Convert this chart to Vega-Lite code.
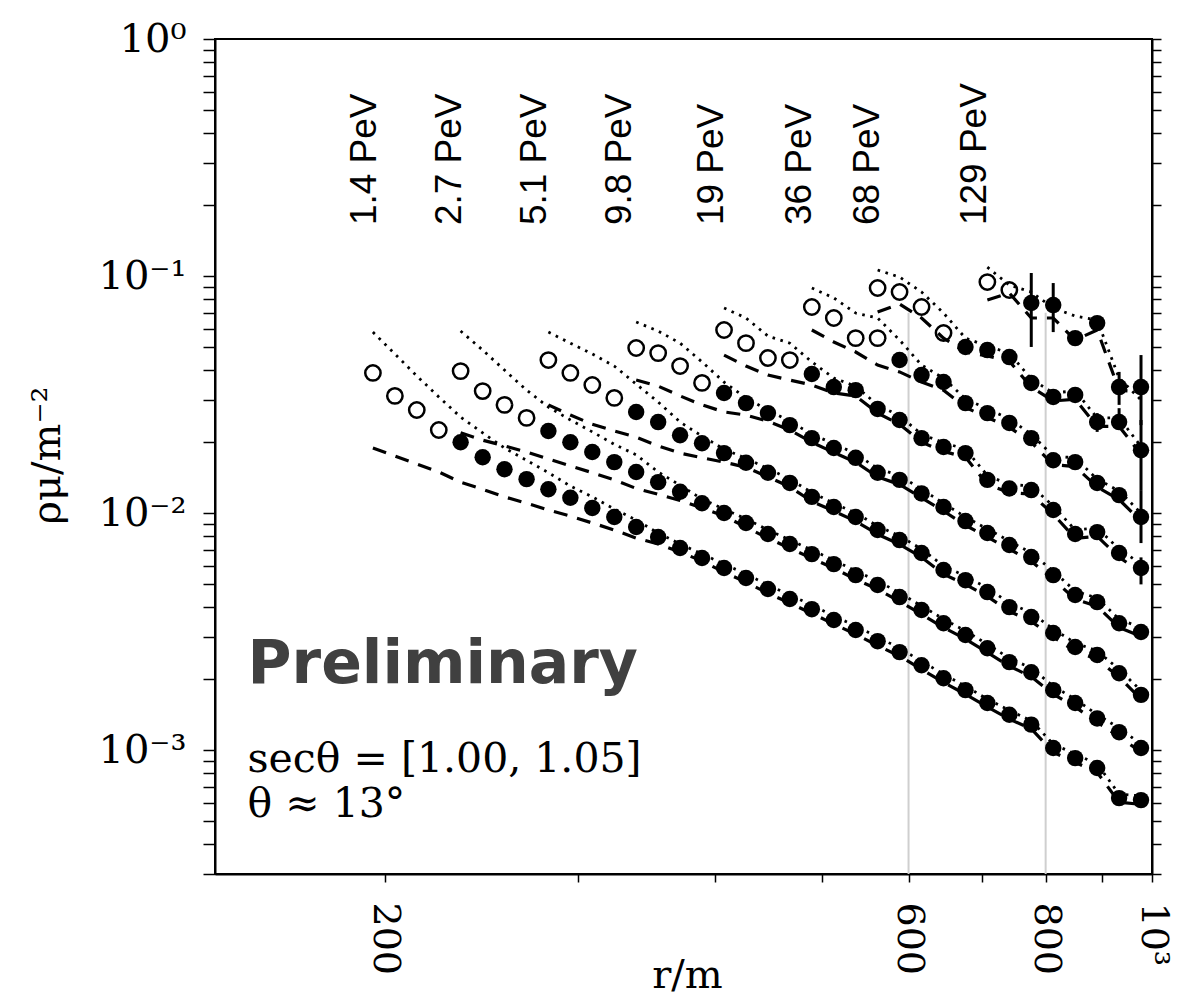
{
  "$schema": "https://vega.github.io/schema/vega-lite/v6.json",
  "width": 937,
  "height": 835,
  "autosize": "none",
  "padding": {"left": 215, "top": 39, "right": 35, "bottom": 125},
  "background": "white",
  "config": {"view": {"stroke": "black", "strokeWidth": 2}, "axis": {"grid": false}},
  "datasets": {
    "rules": [{"r": 600, "top": 0.07, "bot": 0.0003}, {"r": 800, "top": 0.07, "bot": 0.0003}],
    "err": [
      {"s": 8, "r": 776.2, "lo": 0.0502, "hi": 0.103},
      {"s": 8, "r": 812.8, "lo": 0.058, "hi": 0.0934},
      {"s": 8, "r": 933.3, "lo": 0.0286, "hi": 0.0394},
      {"s": 8, "r": 977.2, "lo": 0.0235, "hi": 0.0464},
      {"s": 7, "r": 891.3, "lo": 0.022, "hi": 0.0264},
      {"s": 7, "r": 933.3, "lo": 0.0224, "hi": 0.0277},
      {"s": 7, "r": 977.2, "lo": 0.0125, "hi": 0.0247},
      {"s": 6, "r": 977.2, "lo": 0.00747, "hi": 0.0125},
      {"s": 5, "r": 977.2, "lo": 0.005, "hi": 0.0065}
    ],
    "labels": [
      {"t": "1.4 PeV", "r": 191.7, "v": 0.164},
      {"t": "2.7 PeV", "r": 229.1, "v": 0.164},
      {"t": "5.1 PeV", "r": 273.9, "v": 0.164},
      {"t": "9.8 PeV", "r": 327.4, "v": 0.164},
      {"t": "19 PeV", "r": 397.1, "v": 0.164},
      {"t": "36 PeV", "r": 477.8, "v": 0.164},
      {"t": "68 PeV", "r": 551.0, "v": 0.164},
      {"t": "129 PeV", "r": 689.9, "v": 0.164}
    ],
    "ann": [
      {"k": "p", "t": "Preliminary", "r": 149.9, "v": 0.00192},
      {"k": "s", "t": "secθ = [1.00, 1.05]", "r": 149.9, "v": 0.000808},
      {"k": "s", "t": "θ ≈ 13°", "r": 149.9, "v": 0.000521}
    ],
    "pts": [
      {"s":1,"r":195.0,"v":0.0390,"o":1,"pu":0.0580,"pd":0.0188},
      {"s":1,"r":204.2,"v":0.0312,"o":1,"pu":0.0469,"pd":0.0174},
      {"s":1,"r":213.8,"v":0.0272,"o":1,"pu":0.0379,"pd":0.0161},
      {"s":1,"r":223.9,"v":0.0224,"o":1,"pu":0.0309,"pd":0.0149},
      {"s":1,"r":234.4,"v":0.0199,"o":0,"pu":0.0254,"pd":0.0135},
      {"s":1,"r":245.5,"v":0.0172,"o":0,"pu":0.0218,"pd":0.0126},
      {"s":1,"r":257.0,"v":0.0153,"o":0,"pu":0.0188,"pd":0.0117},
      {"s":1,"r":269.2,"v":0.0139,"o":0,"pu":0.0167,"pd":0.0110},
      {"s":1,"r":281.8,"v":0.0126,"o":0,"pu":0.0148,"pd":0.0103},
      {"s":1,"r":295.1,"v":0.0116,"o":0,"pu":0.0130,"pd":0.00971},
      {"s":1,"r":309.0,"v":0.0105,"o":0,"pu":0.0117,"pd":0.00908},
      {"s":1,"r":323.6,"v":0.00962,"o":0,"pu":0.0104,"pd":0.00848},
      {"s":1,"r":338.8,"v":0.00873,"o":0,"pu":0.00934,"pd":0.00784},
      {"s":1,"r":354.8,"v":0.00792,"o":0,"pu":0.00824,"pd":0.00740},
      {"s":1,"r":371.5,"v":0.00712,"o":0,"pu":0.00740,"pd":0.00685},
      {"s":1,"r":389.0,"v":0.00646,"o":0,"pu":0.00672,"pd":0.00627},
      {"s":1,"r":407.4,"v":0.00586,"o":0,"pu":0.00609,"pd":0.00563},
      {"s":1,"r":426.6,"v":0.00532,"o":0,"pu":0.00553,"pd":0.00511},
      {"s":1,"r":446.7,"v":0.00478,"o":0,"pu":0.00497,"pd":0.00459},
      {"s":1,"r":467.7,"v":0.00434,"o":0,"pu":0.00451,"pd":0.00417},
      {"s":1,"r":489.8,"v":0.00393,"o":0,"pu":0.00409,"pd":0.00377},
      {"s":1,"r":512.9,"v":0.00354,"o":0,"pu":0.00368,"pd":0.00340},
      {"s":1,"r":537.0,"v":0.00321,"o":0,"pu":0.00334,"pd":0.00308},
      {"s":1,"r":562.3,"v":0.00288,"o":0,"pu":0.00300,"pd":0.00276},
      {"s":1,"r":588.8,"v":0.00259,"o":0,"pu":0.00269,"pd":0.00249},
      {"s":1,"r":616.6,"v":0.00228,"o":0,"pu":0.00237,"pd":0.00219},
      {"s":1,"r":645.7,"v":0.00201,"o":0,"pu":0.00209,"pd":0.00193},
      {"s":1,"r":676.1,"v":0.00179,"o":0,"pu":0.00186,"pd":0.00172},
      {"s":1,"r":707.9,"v":0.00158,"o":0,"pu":0.00164,"pd":0.00152},
      {"s":1,"r":741.3,"v":0.00141,"o":0,"pu":0.00147,"pd":0.00135},
      {"s":1,"r":776.2,"v":0.00128,"o":0,"pu":0.00133,"pd":0.00123},
      {"s":1,"r":812.8,"v":0.00102,"o":0,"pu":0.00106,"pd":0.000979},
      {"s":1,"r":851.1,"v":0.000925,"o":0,"pu":0.000962,"pd":0.000888},
      {"s":1,"r":891.3,"v":0.000840,"o":0,"pu":0.000874,"pd":0.000806},
      {"s":1,"r":933.3,"v":0.000627,"o":0,"pu":0.000652,"pd":0.000602},
      {"s":1,"r":977.2,"v":0.000615,"o":0,"pu":0.000640,"pd":0.000590},

      {"s":2,"r":234.4,"v":0.0397,"o":1,"pu":0.0586,"pd":0.0218},
      {"s":2,"r":245.5,"v":0.0327,"o":1,"pu":0.0487,"pd":0.0203},
      {"s":2,"r":257.0,"v":0.0286,"o":1,"pu":0.0401,"pd":0.0192},
      {"s":2,"r":269.2,"v":0.0252,"o":1,"pu":0.0330,"pd":0.0181},
      {"s":2,"r":281.8,"v":0.0222,"o":0,"pu":0.0280,"pd":0.0169},
      {"s":2,"r":295.1,"v":0.0199,"o":0,"pu":0.0247,"pd":0.0158},
      {"s":2,"r":309.0,"v":0.0181,"o":0,"pu":0.0220,"pd":0.0148},
      {"s":2,"r":323.6,"v":0.0164,"o":0,"pu":0.0195,"pd":0.0138},
      {"s":2,"r":338.8,"v":0.0149,"o":0,"pu":0.0176,"pd":0.0127},
      {"s":2,"r":354.8,"v":0.0135,"o":0,"pu":0.0149,"pd":0.0120},
      {"s":2,"r":371.5,"v":0.0123,"o":0,"pu":0.0131,"pd":0.0113},
      {"s":2,"r":389.0,"v":0.0110,"o":0,"pu":0.01144,"pd":0.0105},
      {"s":2,"r":407.4,"v":0.0100,"o":0,"pu":0.0104,"pd":0.00971},
      {"s":2,"r":426.6,"v":0.00908,"o":0,"pu":0.00944,"pd":0.00872},
      {"s":2,"r":446.7,"v":0.00816,"o":0,"pu":0.00849,"pd":0.00783},
      {"s":2,"r":467.7,"v":0.00740,"o":0,"pu":0.00770,"pd":0.00710},
      {"s":2,"r":489.8,"v":0.00671,"o":0,"pu":0.00698,"pd":0.00644},
      {"s":2,"r":512.9,"v":0.00609,"o":0,"pu":0.00633,"pd":0.00585},
      {"s":2,"r":537.0,"v":0.00547,"o":0,"pu":0.00569,"pd":0.00525},
      {"s":2,"r":562.3,"v":0.00497,"o":0,"pu":0.00517,"pd":0.00477},
      {"s":2,"r":588.8,"v":0.00442,"o":0,"pu":0.00460,"pd":0.00424},
      {"s":2,"r":616.6,"v":0.00390,"o":0,"pu":0.00406,"pd":0.00374},
      {"s":2,"r":645.7,"v":0.00343,"o":0,"pu":0.00357,"pd":0.00329},
      {"s":2,"r":676.1,"v":0.00306,"o":0,"pu":0.00318,"pd":0.00294},
      {"s":2,"r":707.9,"v":0.00269,"o":0,"pu":0.00280,"pd":0.00258},
      {"s":2,"r":741.3,"v":0.00235,"o":0,"pu":0.00244,"pd":0.00226},
      {"s":2,"r":776.2,"v":0.00213,"o":0,"pu":0.00222,"pd":0.00204},
      {"s":2,"r":812.8,"v":0.00179,"o":0,"pu":0.00186,"pd":0.00172},
      {"s":2,"r":851.1,"v":0.00158,"o":0,"pu":0.00164,"pd":0.00152},
      {"s":2,"r":891.3,"v":0.00136,"o":0,"pu":0.00141,"pd":0.00131},
      {"s":2,"r":933.3,"v":0.00119,"o":0,"pu":0.00124,"pd":0.00114},
      {"s":2,"r":977.2,"v":0.00102,"o":0,"pu":0.00106,"pd":0.000979},

      {"s":3,"r":281.8,"v":0.0442,"o":1,"pu":0.0580,"pd":0.0286},
      {"s":3,"r":295.1,"v":0.0390,"o":1,"pu":0.0521,"pd":0.0259},
      {"s":3,"r":309.0,"v":0.0347,"o":1,"pu":0.0469,"pd":0.0237},
      {"s":3,"r":323.6,"v":0.0306,"o":1,"pu":0.0417,"pd":0.0222},
      {"s":3,"r":338.8,"v":0.0267,"o":0,"pu":0.0350,"pd":0.0209},
      {"s":3,"r":354.8,"v":0.0242,"o":0,"pu":0.0294,"pd":0.0192},
      {"s":3,"r":371.5,"v":0.0213,"o":0,"pu":0.0242,"pd":0.0179},
      {"s":3,"r":389.0,"v":0.0197,"o":0,"pu":0.0211,"pd":0.0171},
      {"s":3,"r":407.4,"v":0.0179,"o":0,"pu":0.0186,"pd":0.0164},
      {"s":3,"r":426.6,"v":0.0163,"o":0,"pu":0.0170,"pd":0.0156},
      {"s":3,"r":446.7,"v":0.0148,"o":0,"pu":0.0154,"pd":0.0142},
      {"s":3,"r":467.7,"v":0.0134,"o":0,"pu":0.0139,"pd":0.0129},
      {"s":3,"r":489.8,"v":0.0117,"o":0,"pu":0.0122,"pd":0.0112},
      {"s":3,"r":512.9,"v":0.0106,"o":0,"pu":0.0110,"pd":0.0102},
      {"s":3,"r":537.0,"v":0.00962,"o":0,"pu":0.0100,"pd":0.00924},
      {"s":3,"r":562.3,"v":0.00848,"o":0,"pu":0.00882,"pd":0.00814},
      {"s":3,"r":588.8,"v":0.00769,"o":0,"pu":0.00800,"pd":0.00738},
      {"s":3,"r":616.6,"v":0.00678,"o":0,"pu":0.00705,"pd":0.00651},
      {"s":3,"r":645.7,"v":0.00575,"o":0,"pu":0.00598,"pd":0.00552},
      {"s":3,"r":676.1,"v":0.00521,"o":0,"pu":0.00542,"pd":0.00500},
      {"s":3,"r":707.9,"v":0.00464,"o":0,"pu":0.00483,"pd":0.00445},
      {"s":3,"r":741.3,"v":0.00401,"o":0,"pu":0.00417,"pd":0.00385},
      {"s":3,"r":776.2,"v":0.00364,"o":0,"pu":0.00379,"pd":0.00349},
      {"s":3,"r":812.8,"v":0.00312,"o":0,"pu":0.00324,"pd":0.00300},
      {"s":3,"r":851.1,"v":0.00272,"o":0,"pu":0.00283,"pd":0.00261},
      {"s":3,"r":891.3,"v":0.00252,"o":0,"pu":0.00262,"pd":0.00242},
      {"s":3,"r":933.3,"v":0.00211,"o":0,"pu":0.00219,"pd":0.00203},
      {"s":3,"r":977.2,"v":0.00171,"o":0,"pu":0.00178,"pd":0.00164},

      {"s":4,"r":338.8,"v":0.0497,"o":1,"pu":0.0640,"pd":0.0364},
      {"s":4,"r":354.8,"v":0.0473,"o":1,"pu":0.0586,"pd":0.0343},
      {"s":4,"r":371.5,"v":0.0417,"o":1,"pu":0.0521,"pd":0.0312},
      {"s":4,"r":389.0,"v":0.0354,"o":1,"pu":0.0434,"pd":0.0286},
      {"s":4,"r":407.4,"v":0.0321,"o":0,"pu":0.0357,"pd":0.0267},
      {"s":4,"r":426.6,"v":0.0291,"o":0,"pu":0.0306,"pd":0.0259},
      {"s":4,"r":446.7,"v":0.0264,"o":0,"pu":0.0272,"pd":0.0244},
      {"s":4,"r":467.7,"v":0.0235,"o":0,"pu":0.0244,"pd":0.0224},
      {"s":4,"r":489.8,"v":0.0207,"o":0,"pu":0.0215,"pd":0.0199},
      {"s":4,"r":512.9,"v":0.0188,"o":0,"pu":0.0196,"pd":0.0180},
      {"s":4,"r":537.0,"v":0.0171,"o":0,"pu":0.0178,"pd":0.0164},
      {"s":4,"r":562.3,"v":0.0148,"o":0,"pu":0.0154,"pd":0.0142},
      {"s":4,"r":588.8,"v":0.0138,"o":0,"pu":0.0144,"pd":0.0132},
      {"s":4,"r":616.6,"v":0.0121,"o":0,"pu":0.0126,"pd":0.0116},
      {"s":4,"r":645.7,"v":0.0106,"o":0,"pu":0.0110,"pd":0.0102},
      {"s":4,"r":676.1,"v":0.00925,"o":0,"pu":0.00962,"pd":0.00888},
      {"s":4,"r":707.9,"v":0.00824,"o":0,"pu":0.00857,"pd":0.00791},
      {"s":4,"r":741.3,"v":0.00733,"o":0,"pu":0.00762,"pd":0.00704},
      {"s":4,"r":776.2,"v":0.00652,"o":0,"pu":0.00678,"pd":0.00626},
      {"s":4,"r":812.8,"v":0.00547,"o":0,"pu":0.00569,"pd":0.00525},
      {"s":4,"r":851.1,"v":0.00451,"o":0,"pu":0.00469,"pd":0.00433},
      {"s":4,"r":891.3,"v":0.00421,"o":0,"pu":0.00438,"pd":0.00404},
      {"s":4,"r":933.3,"v":0.00343,"o":0,"pu":0.00357,"pd":0.00329},
      {"s":4,"r":977.2,"v":0.00315,"o":0,"pu":0.00328,"pd":0.00302},

      {"s":5,"r":407.4,"v":0.0592,"o":1,"pu":0.0733,"pd":0.0464},
      {"s":5,"r":426.6,"v":0.0521,"o":1,"pu":0.0665,"pd":0.0417},
      {"s":5,"r":446.7,"v":0.0451,"o":1,"pu":0.0558,"pd":0.0382},
      {"s":5,"r":467.7,"v":0.0442,"o":1,"pu":0.0521,"pd":0.0364},
      {"s":5,"r":489.8,"v":0.0386,"o":0,"pu":0.0434,"pd":0.0347},
      {"s":5,"r":512.9,"v":0.0340,"o":0,"pu":0.0371,"pd":0.0321},
      {"s":5,"r":537.0,"v":0.0330,"o":0,"pu":0.0343,"pd":0.0312},
      {"s":5,"r":562.3,"v":0.0275,"o":0,"pu":0.0286,"pd":0.0264},
      {"s":5,"r":588.8,"v":0.0247,"o":0,"pu":0.0257,"pd":0.0237},
      {"s":5,"r":616.6,"v":0.0207,"o":0,"pu":0.0215,"pd":0.0199},
      {"s":5,"r":645.7,"v":0.0190,"o":0,"pu":0.0198,"pd":0.0182},
      {"s":5,"r":676.1,"v":0.0179,"o":0,"pu":0.0186,"pd":0.0172},
      {"s":5,"r":707.9,"v":0.0138,"o":0,"pu":0.0144,"pd":0.0132},
      {"s":5,"r":741.3,"v":0.0127,"o":0,"pu":0.0132,"pd":0.0122},
      {"s":5,"r":776.2,"v":0.0125,"o":0,"pu":0.0130,"pd":0.0120},
      {"s":5,"r":812.8,"v":0.0103,"o":0,"pu":0.0107,"pd":0.00989},
      {"s":5,"r":851.1,"v":0.00816,"o":0,"pu":0.00849,"pd":0.00783},
      {"s":5,"r":891.3,"v":0.00831,"o":0,"pu":0.00864,"pd":0.00798},
      {"s":5,"r":933.3,"v":0.00678,"o":0,"pu":0.00705,"pd":0.00651},
      {"s":5,"r":977.2,"v":0.00586,"o":0,"pu":0.00609,"pd":0.00563},

      {"s":6,"r":489.8,"v":0.0740,"o":1,"pu":0.0890,"pd":0.0592},
      {"s":6,"r":512.9,"v":0.0665,"o":1,"pu":0.0808,"pd":0.0527},
      {"s":6,"r":537.0,"v":0.0547,"o":1,"pu":0.0698,"pd":0.0478},
      {"s":6,"r":562.3,"v":0.0547,"o":1,"pu":0.0665,"pd":0.0421},
      {"s":6,"r":588.8,"v":0.0442,"o":0,"pu":0.0537,"pd":0.0394},
      {"s":6,"r":616.6,"v":0.0382,"o":0,"pu":0.0421,"pd":0.0357},
      {"s":6,"r":645.7,"v":0.0357,"o":0,"pu":0.0371,"pd":0.0330},
      {"s":6,"r":676.1,"v":0.0291,"o":0,"pu":0.0303,"pd":0.0279},
      {"s":6,"r":707.9,"v":0.0264,"o":0,"pu":0.0275,"pd":0.0253},
      {"s":6,"r":741.3,"v":0.0240,"o":0,"pu":0.0250,"pd":0.0230},
      {"s":6,"r":776.2,"v":0.0207,"o":0,"pu":0.0215,"pd":0.0199},
      {"s":6,"r":812.8,"v":0.0167,"o":0,"pu":0.0174,"pd":0.0160},
      {"s":6,"r":851.1,"v":0.0164,"o":0,"pu":0.0171,"pd":0.0157},
      {"s":6,"r":891.3,"v":0.0134,"o":0,"pu":0.0139,"pd":0.0129},
      {"s":6,"r":933.3,"v":0.0119,"o":0,"pu":0.0124,"pd":0.0114},
      {"s":6,"r":977.2,"v":0.00962,"o":0,"pu":0.0100,"pd":0.00924},

      {"s":7,"r":562.3,"v":0.0890,"o":1,"pu":0.106,"pd":0.0705},
      {"s":7,"r":588.8,"v":0.0856,"o":1,"pu":0.0990,"pd":0.0762},
      {"s":7,"r":616.6,"v":0.0740,"o":1,"pu":0.0856,"pd":0.0665},
      {"s":7,"r":645.7,"v":0.0575,"o":1,"pu":0.0698,"pd":0.0547},
      {"s":7,"r":676.1,"v":0.0502,"o":0,"pu":0.0547,"pd":0.0478},
      {"s":7,"r":707.9,"v":0.0487,"o":0,"pu":0.0506,"pd":0.0460},
      {"s":7,"r":741.3,"v":0.0455,"o":0,"pu":0.0473,"pd":0.0437},
      {"s":7,"r":776.2,"v":0.0354,"o":0,"pu":0.0368,"pd":0.0340},
      {"s":7,"r":812.8,"v":0.0309,"o":0,"pu":0.0321,"pd":0.0297},
      {"s":7,"r":851.1,"v":0.0315,"o":0,"pu":0.0328,"pd":0.0302},
      {"s":7,"r":891.3,"v":0.0242,"o":0,"pu":0.0252,"pd":0.0232},
      {"s":7,"r":933.3,"v":0.0242,"o":0,"pu":0.0252,"pd":0.0232},
      {"s":7,"r":977.2,"v":0.0184,"o":0,"pu":0.0191,"pd":0.0177},

      {"s":8,"r":707.9,"v":0.0943,"o":1,"pu":0.109,"pd":0.0792},
      {"s":8,"r":741.3,"v":0.0873,"o":1,"pu":0.0916,"pd":0.0848},
      {"s":8,"r":776.2,"v":0.0769,"o":0,"pu":0.0856,"pd":0.0665},
      {"s":8,"r":812.8,"v":0.0754,"o":0,"pu":0.0733,"pd":0.0665},
      {"s":8,"r":851.1,"v":0.0547,"o":0,"pu":0.0678,"pd":0.0537},
      {"s":8,"r":891.3,"v":0.0633,"o":0,"pu":0.0652,"pd":0.0592},
      {"s":8,"r":933.3,"v":0.0340,"o":0,"pu":0.0371,"pd":0.0330},
      {"s":8,"r":977.2,"v":0.0340,"o":0,"pu":0.0300,"pd":0.0324}
    ]
  },
  "encoding": {
    "x": {
      "field": "r",
      "type": "quantitative",
      "scale": {"type": "log", "domain": [140, 1000], "nice": false},
      "axis": {
        "title": "r/m",
        "values": [200, 300, 400, 500, 600, 700, 800, 900, 1000],
        "format": "d",
        "labelExpr": "datum.value == 1000 ? '10³' : ((datum.value == 200 || datum.value == 600 || datum.value == 800) ? datum.label : '')",
        "labelAngle": 90,
        "labelFont": "DejaVu Serif",
        "labelFontSize": 38,
        "labelColor": "black",
        "labelPadding": 20,
        "labelFlush": false,
        "labelOverlap": false,
        "labelBound": false,
        "tickSize": 8,
        "tickColor": "black",
        "tickWidth": 1.5,
        "domainColor": "black",
        "domainWidth": 2,
        "titleFont": "DejaVu Serif",
        "titleFontSize": 40,
        "titleFontWeight": "normal",
        "titleColor": "black",
        "titleX": 472,
        "titleY": 101,
        "titleBaseline": "middle",
        "titleAlign": "center",
        "encode": {
          "labels": {
            "update": {
              "angle": {"signal": "datum.value == 1000 ? 0 : 90"},
              "align": {"signal": "datum.value == 1000 ? 'center' : 'left'"},
              "baseline": {"signal": "datum.value == 1000 ? 'top' : 'middle'"},
              "dx": {"signal": "datum.value == 1000 ? 12 : 0"},
              "dy": {"signal": "datum.value == 1000 ? -10 : 0"}
            }
          }
        }
      }
    }
  },
  "layer": [
    {
      "data": {"name": "rules"},
      "mark": {"type": "rule", "color": "#cfcfcf", "strokeWidth": 2},
      "encoding": {
        "y": {
          "field": "top",
          "type": "quantitative",
          "scale": {"type": "log", "domain": [0.0003, 1], "nice": false},
          "axis": {
            "orient": "right",
            "title": null,
            "labels": false,
            "values": [0.0003, 0.0004, 0.0005, 0.0006, 0.0007, 0.0008, 0.0009, 0.001, 0.002, 0.003, 0.004, 0.005, 0.006, 0.007, 0.008, 0.009, 0.01, 0.02, 0.03, 0.04, 0.05, 0.06, 0.07, 0.08, 0.09, 0.1, 0.2, 0.3, 0.4, 0.5, 0.6, 0.7, 0.8, 0.9, 1],
            "tickSize": 9,
            "tickColor": "black",
            "tickWidth": 1.5,
            "domainColor": "black",
            "domainWidth": 2,
            "encode": {"ticks": {"update": {"x2": {"signal": "(datum.value == 1 || datum.value == 0.1 || datum.value == 0.01 || datum.value == 0.001) ? 10 : 5"}}}}
          }
        },
        "y2": {"field": "bot"}
      }
    },
    {
      "data": {"name": "pts"},
      "mark": {"type": "line", "color": "black", "strokeWidth": 2.8, "strokeDash": [2.6, 5.6]},
      "encoding": {
        "y": {"field": "pu", "type": "quantitative", "scale": {"type": "log", "domain": [0.0003, 1], "nice": false}, "axis": null},
        "detail": {"field": "s"}
      }
    },
    {
      "data": {"name": "pts"},
      "mark": {"type": "line", "color": "black", "strokeWidth": 3.2, "strokeDash": [14, 10]},
      "encoding": {
        "y": {"field": "pd", "type": "quantitative", "scale": {"type": "log", "domain": [0.0003, 1], "nice": false}, "axis": null},
        "detail": {"field": "s"}
      }
    },
    {
      "data": {"name": "err"},
      "mark": {"type": "rule", "color": "black", "strokeWidth": 3},
      "encoding": {
        "y": {"field": "lo", "type": "quantitative", "scale": {"type": "log", "domain": [0.0003, 1], "nice": false}, "axis": null},
        "y2": {"field": "hi"}
      }
    },
    {
      "data": {"name": "pts"},
      "transform": [{"filter": "datum.o == 0"}],
      "mark": {"type": "point", "shape": "circle", "filled": true, "size": 270, "color": "black", "opacity": 1},
      "encoding": {
        "y": {
          "field": "v",
          "type": "quantitative",
          "scale": {"type": "log", "domain": [0.0003, 1], "nice": false},
          "axis": {
            "orient": "left",
            "title": "ρμ/m⁻²",
            "values": [0.0003, 0.0004, 0.0005, 0.0006, 0.0007, 0.0008, 0.0009, 0.001, 0.002, 0.003, 0.004, 0.005, 0.006, 0.007, 0.008, 0.009, 0.01, 0.02, 0.03, 0.04, 0.05, 0.06, 0.07, 0.08, 0.09, 0.1, 0.2, 0.3, 0.4, 0.5, 0.6, 0.7, 0.8, 0.9, 1],
            "labelExpr": "datum.value == 1 ? '10⁰' : datum.value == 0.1 ? '10⁻¹' : datum.value == 0.01 ? '10⁻²' : datum.value == 0.001 ? '10⁻³' : ''",
            "labelFont": "DejaVu Serif",
            "labelFontSize": 40,
            "labelColor": "black",
            "labelPadding": 17,
            "labelOverlap": false,
            "labelBound": false,
            "labelFlush": false,
            "labelBaseline": "middle",
            "tickSize": 12,
            "tickColor": "black",
            "tickWidth": 1.5,
            "domainColor": "black",
            "domainWidth": 2,
            "titleFont": "DejaVu Serif",
            "titleFontSize": 40,
            "titleFontWeight": "normal",
            "titleColor": "black",
            "titleAngle": 270,
            "titleX": -168,
            "titleY": 416,
            "titleAlign": "center",
            "titleBaseline": "middle",
            "encode": {"ticks": {"update": {"x2": {"signal": "(datum.value == 1 || datum.value == 0.1 || datum.value == 0.01 || datum.value == 0.001) ? -12 : -6"}}}}
          }
        }
      }
    },
    {
      "data": {"name": "pts"},
      "transform": [{"filter": "datum.o == 1"}],
      "mark": {"type": "point", "shape": "circle", "filled": false, "size": 235, "strokeWidth": 2.5, "color": "black", "opacity": 1},
      "encoding": {
        "y": {"field": "v", "type": "quantitative", "scale": {"type": "log", "domain": [0.0003, 1], "nice": false}, "axis": null}
      }
    },
    {
      "data": {"name": "labels"},
      "mark": {"type": "text", "angle": 270, "align": "left", "baseline": "middle", "font": "Liberation Sans", "fontSize": 37, "color": "black"},
      "encoding": {
        "y": {"field": "v", "type": "quantitative", "scale": {"type": "log", "domain": [0.0003, 1], "nice": false}, "axis": null},
        "text": {"field": "t"}
      }
    },
    {
      "data": {"name": "ann"},
      "transform": [{"filter": "datum.k == 'p'"}],
      "mark": {"type": "text", "align": "left", "baseline": "alphabetic", "font": "DejaVu Sans", "fontWeight": "bold", "fontSize": 60, "color": "#404040"},
      "encoding": {
        "y": {"field": "v", "type": "quantitative", "scale": {"type": "log", "domain": [0.0003, 1], "nice": false}, "axis": null},
        "text": {"field": "t"}
      }
    },
    {
      "data": {"name": "ann"},
      "transform": [{"filter": "datum.k == 's'"}],
      "mark": {"type": "text", "align": "left", "baseline": "alphabetic", "font": "DejaVu Serif", "fontSize": 41, "color": "black"},
      "encoding": {
        "y": {"field": "v", "type": "quantitative", "scale": {"type": "log", "domain": [0.0003, 1], "nice": false}, "axis": null},
        "text": {"field": "t"}
      }
    }
  ],
  "resolve": {"axis": {"y": "independent"}}
}
